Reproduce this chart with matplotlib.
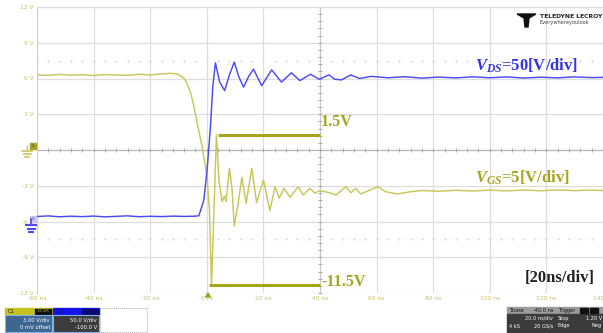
import matplotlib
matplotlib.use("Agg")
import matplotlib.pyplot as plt
from matplotlib.patches import Rectangle, Polygon
import numpy as np

plt.rcParams["mathtext.fontset"] = "custom"
plt.rcParams["mathtext.it"] = "Liberation Serif:italic:bold"
plt.rcParams["mathtext.rm"] = "Liberation Serif:bold"

# --- waveform data ---
# C1 : V_GS (3 V/div, 0 V offset) -> plotted on the screen's volt scale
t_gs = [-60, -56, -52, -48, -44, -40, -36, -32, -28, -24, -20, -16, -13, -11, -9.8,
        -8.1, -7.0, -5.7, -4.6, -3.4, -1.65, 0.1, 0.95, 1.65, 3.4, 4.3, 5.4, 6.2, 6.8, 8.0,
        8.9, 9.7, 11.0, 12.4, 13.9, 15.9, 17.6, 20.0, 22.3, 24.1, 25.6, 27.3, 29.4,
        32.3, 34.1, 36.4, 38.2, 39.9, 43.4, 45.7, 49.1, 50.9, 52.6, 54.4, 60.4, 63.2,
        67.4, 71.9, 76, 82, 88, 94, 100, 106, 112, 118, 124, 130, 136, 140]
v_gs = [6.30, 6.26, 6.34, 6.28, 6.32, 6.25, 6.33, 6.29, 6.27, 6.35, 6.30, 6.38, 6.44, 6.40, 6.30,
        6.04, 5.60, 4.78, 3.70, 2.27, 0.28, -2.24, -5.04, -11.40, 1.30, -2.60, -4.34, -3.86, -4.34, -1.54,
        -3.20, -6.38, -4.60, -2.29, -4.47, -1.54, -4.42, -2.52, -5.09, -3.08, -4.05, -3.21, -3.97,
        -3.08, -3.78, -3.21, -3.63, -3.42, -3.58, -3.78, -3.08, -3.58, -3.21, -3.69, -3.08, -3.50,
        -3.69, -3.50, -3.40, -3.46, -3.38, -3.44, -3.37, -3.43, -3.36, -3.42, -3.35, -3.41, -3.36, -3.40]

# C2 : V_DS (50 V/div, -100 V offset)
t_ds = [-60, -56, -52, -48, -44, -40, -36, -32, -28, -24, -20, -16, -12, -8, -4.5,
        -2.8, -1.05, 0.1, 1.3, 2.1, 3.05, 4.5, 6.3, 8.0, 9.7, 11.3, 13.0, 14.8, 16.5, 19.4,
        22.9, 26.4, 29.9, 32.9, 36.6, 39.7, 43.2, 45.2, 47.6, 50.8, 54, 58, 64, 70, 76,
        82, 88, 94, 100, 106, 112, 118, 124, 130, 136, 140]
v_ds = [7.0, 7.8, 6.6, 7.4, 6.8, 7.6, 6.5, 7.2, 7.9, 6.7, 7.3, 6.9, 7.5, 7.1, 7.4,
        8.0, 30.0, 72.0, 133.0, 188.0, 222.0, 195.5, 183.0, 205.0, 223.0, 202.5, 188.0, 203.0, 213.0, 190.0,
        212.0, 195.0, 208.0, 197.0, 206.0, 199.0, 205.0, 199.0, 198.0, 205.0, 200.0, 203.0, 201.0, 202.5, 200.5,
        202.0, 200.8, 202.4, 201.0, 202.2, 200.6, 201.8, 200.9, 202.3, 201.2, 201.6]

# cursor markers
cursor_hi = 1.3
cursor_lo = -11.35
cursor_t0_hi, cursor_t0_lo, cursor_t1 = 4.0, 0.7, 40.0

x_ticks = [-60, -40, -20, 0, 20, 40, 60, 80, 100, 120, 140]
x_labels = ["-60 ns", "-40 ns", "-20 ns", "0 ns", "20 ns", "40 ns", "60 ns",
            "80 ns", "100 ns", "120 ns", "140 ns"]
y_ticks = [-12, -9, -6, -3, 0, 3, 6, 9, 12]
y_labels = ["-12 V", "-9 V", "-6 V", "-3 V", "", "3 V", "6 V", "9 V", "12 V"]

YEL = "#c9c65a"
OLIVE = "#a6a41c"
BLUE = "#4b4cf0"
LBL = "#c4bd6a"

W, H = 603, 333
fig = plt.figure(figsize=(W / 100, H / 100), dpi=100)
fig.patch.set_facecolor("white")

ax = fig.add_axes([37 / W, (H - 293) / H, (W - 37) / W, 286 / H])
ax.set_xlim(-60, 138.6)
ax.set_ylim(-12, 12)
ax.set_xticks(x_ticks)
ax.set_xticklabels(x_labels, fontsize=4.3, color=LBL)
ax.set_yticks(y_ticks)
ax.set_yticklabels(y_labels, fontsize=4.3, color=LBL)
ax.tick_params(length=0, pad=2.5)
ax.grid(True, color="#dedede", lw=0.9)
for s in ["right", "bottom"]:
    ax.spines[s].set_visible(False)
ax.spines["left"].set_color("#cfcfcf")
ax.spines["top"].set_color("#dcdcdc")
ax.set_axisbelow(True)

# centre crosshair with minor ticks, plus faint dotted rows
ax.axhline(0, color="#b5b5b5", lw=0.8, zorder=1)
ax.axvline(40, color="#c8c8c8", lw=0.8, zorder=1)
mt = np.arange(-60, 140, 4)
ax.plot(mt, np.zeros_like(mt), ls="none", marker="|", ms=2.2, color="#a0a0a0", mew=0.6, zorder=1)
my = np.arange(-12, 12.1, 0.6)
ax.plot(np.full_like(my, 40), my, ls="none", marker="_", ms=2.2, color="#a0a0a0", mew=0.6, zorder=1)
for yy in [7.5, -7.5]:
    ax.plot(mt, np.full_like(mt, yy, dtype=float), ls="none", marker=".", ms=0.9, color="#d0d0d0", zorder=1)

ax.plot(t_gs, v_gs, color=YEL, lw=1.05, zorder=3, solid_joinstyle="round")

ax2 = ax.twinx()
ax2.set_ylim(-100, 300)
ax2.axis("off")
ax2.plot(t_ds, v_ds, color=BLUE, lw=1.05, zorder=3, solid_joinstyle="round")

ax.hlines(cursor_hi, cursor_t0_hi, cursor_t1, color=OLIVE, lw=2.2, zorder=4)
ax.hlines(cursor_lo, cursor_t0_lo, cursor_t1, color=OLIVE, lw=2.2, zorder=4)

serif = dict(fontfamily="Liberation Serif", fontweight="bold")
ax.text(40.4, 2.35, "1.5V", color=OLIVE, fontsize=11.5, va="center", **serif)
ax.text(40.4, -11.05, "-11.5V", color=OLIVE, fontsize=11.5, va="center", **serif)
ax.text(94.7, 7.1, r"$V_{DS}$=50[V/div]", color="#3434e6", fontsize=12, va="center", **serif)
ax.text(94.7, -2.3, r"$V_{GS}$=5[V/div]", color=OLIVE, fontsize=12, va="center", **serif)
ax.text(112.3, -10.75, "[20ns/div]", color="#222222", fontsize=12, va="center", **serif)

# overlay in pixel coordinates for scope decorations
ov = fig.add_axes([0, 0, 1, 1])
ov.set_xlim(0, W)
ov.set_ylim(H, 0)
ov.axis("off")
ov.patch.set_alpha(0)

# logo
ov.add_patch(Polygon([(517, 14), (536, 14), (529, 18), (528, 27), (525, 27), (524, 18)],
                     closed=True, color="#111111"))
ov.text(540, 16.5, "TELEDYNE LECROY", fontsize=4.4, fontweight="bold", color="#222222", va="center")
ov.text(540, 22.5, "Everywhereyoulook", fontsize=3.6, color="#444444", va="center")

# channel ground markers
ov.add_patch(Rectangle((30, 143), 6, 6, color="#a6a030"))
ov.text(33, 146, "1", fontsize=3, color="#333300", ha="center", va="center")
ov.plot([27, 27], [146, 151], color=YEL, lw=1.0)
for yy, hw in [(151, 5), (154, 3.5), (157, 2)]:
    ov.plot([27 - hw, 27 + hw], [yy, yy], color=YEL, lw=1.2)
ov.add_patch(Rectangle((30, 216), 6, 6, color="#c8c8f0"))
ov.text(33, 219, "2", fontsize=3, color="#3030c0", ha="center", va="center")
ov.plot([31, 31], [219, 225], color=BLUE, lw=1.2)
for yy, hw in [(225, 5), (228.5, 3.5), (232, 2)]:
    ov.plot([31 - hw, 31 + hw], [yy, yy], color=BLUE, lw=1.5)

# trigger marker
ov.add_patch(Polygon([(205.5, 297), (210.5, 297), (208, 293)], closed=True, color=OLIVE))

# channel descriptors
ov.add_patch(Rectangle((5, 308), 47, 7, color="#c8c21e"))
ov.text(8, 311.5, "C1", fontsize=3.8, color="#222222", va="center")
ov.add_patch(Rectangle((35, 309), 16, 5, color="#111111"))
ov.text(43, 311.5, "DC1M", fontsize=2.8, color="#c8c21e", ha="center", va="center")
ov.add_patch(Rectangle((5, 315), 47, 17, facecolor="#3e6690", edgecolor="#7fb4e8", lw=0.8))
ov.text(50, 320, "3.00 V/div", fontsize=3.8, color="white", ha="right", va="center")
ov.text(50, 327.5, "0 mV offset", fontsize=3.8, color="white", ha="right", va="center")

ov.add_patch(Rectangle((53, 308), 46, 7, color="#1414e8"))
ov.text(56, 311.5, "C2", fontsize=3.8, color="#0a0a60", va="center")
ov.add_patch(Rectangle((82, 309), 16, 5, color="#0a0a70"))
ov.add_patch(Rectangle((53, 315), 46, 17, facecolor="#3c3c3c", edgecolor="#7fb4e8", lw=0.8))
ov.text(97, 320, "50.0 V/div", fontsize=3.8, color="white", ha="right", va="center")
ov.text(97, 327.5, "-100.0 V", fontsize=3.8, color="white", ha="right", va="center")

ov.add_patch(Rectangle((100, 308), 47, 24, facecolor="none", edgecolor="#aaaaaa", lw=0.7, ls=(0, (1, 1))))

# timebase / trigger box
ov.add_patch(Rectangle((507, 307), 48, 7, color="#9c9c9c"))
ov.add_patch(Rectangle((507, 314), 48, 19, color="#3b3b3b"))
ov.text(509, 310.5, "Tbase", fontsize=3.6, color="#111111", va="center")
ov.text(553, 310.5, "-40.0 ns", fontsize=3.6, color="#111111", ha="right", va="center")
ov.text(553, 318.5, "20.0 ns/div", fontsize=3.6, color="white", ha="right", va="center")
ov.text(509, 326, "4 kS", fontsize=3.6, color="white", va="center")
ov.text(553, 326, "20 GS/s", fontsize=3.6, color="white", ha="right", va="center")
ov.add_patch(Rectangle((556, 307), 47, 7, color="#9c9c9c"))
ov.add_patch(Rectangle((556, 314), 47, 19, color="#3b3b3b"))
ov.text(558, 310.5, "Trigger", fontsize=3.6, color="#111111", va="center")
ov.add_patch(Rectangle((580, 308), 8, 5, color="#111111"))
ov.add_patch(Rectangle((590, 308), 8, 5, color="#111111"))
ov.text(558, 318.5, "Stop", fontsize=3.6, color="white", va="center")
ov.text(602, 318.5, "1.20 V", fontsize=3.6, color="white", ha="right", va="center")
ov.text(558, 326, "Edge", fontsize=3.6, color="white", va="center")
ov.text(602, 326, "Neg", fontsize=3.6, color="white", ha="right", va="center")

fig.savefig("out.png", dpi=100)
